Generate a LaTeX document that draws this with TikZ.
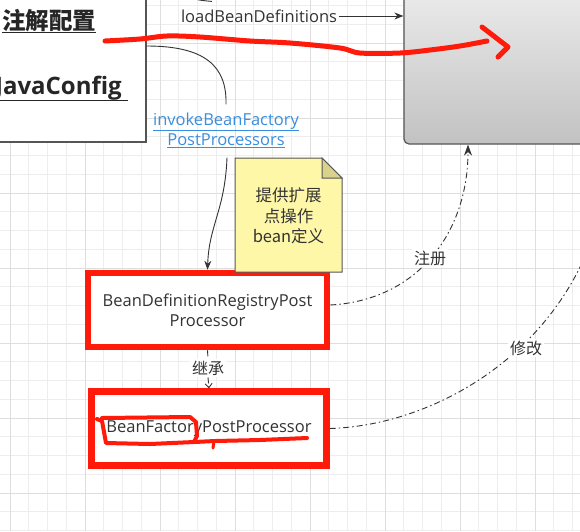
\documentclass[tikz,border=0pt]{standalone}
\usepackage{fontspec}
\setmainfont{Open Sans}
\newfontfamily\cjk{Noto Sans CJK SC}
\usetikzlibrary{arrows.meta,calc}
\definecolor{gridminor}{HTML}{EDEDED}
\definecolor{gridmajor}{HTML}{DEDEDE}
\definecolor{edgegray}{HTML}{555555}
\definecolor{txtgray}{HTML}{333333}
\definecolor{linkblue}{HTML}{3A8EE0}
\definecolor{notefill}{HTML}{FFF7A8}
\definecolor{notefold}{HTML}{D8D28C}
\definecolor{penred}{HTML}{FF1A0A}
\begin{document}
\begin{tikzpicture}[x=1pt,y=-1pt,
  txt/.style={font=\fontsize{16.5}{20}\selectfont, text=txtgray, inner sep=0pt, align=center},
  cjktxt/.style={font=\fontsize{16}{21}\selectfont\cjk, text=txtgray, inner sep=0pt, align=center},
  plainbox/.style={draw=edgegray, fill=white, line width=1.2pt},
  redbox/.style={draw=penred, fill=white, line width=6.5pt, txt},
  conn/.style={draw=txtgray, line width=0.9pt},
  dashdotted line/.style={conn, dash pattern=on 6pt off 3pt on 1.5pt off 3pt},
  redpen/.style={draw=penred, line width=5pt, line cap=round, line join=round},
  wlabel/.style={cjktxt, fill=white, inner sep=2pt}
]
\useasboundingbox (0,0) rectangle (580,531);
\fill[white] (0,0) rectangle (580,531);
% grid
\foreach \i in {-1,...,31} \draw[gridminor, line width=0.8pt] ({10+18.75*\i},0) -- ({10+18.75*\i},531);
\foreach \j in {-1,...,28} \draw[gridminor, line width=0.8pt] (0,{5.5+18.75*\j}) -- (580,{5.5+18.75*\j});
\foreach \i in {0,4,...,28} \draw[gridmajor, line width=0.8pt] ({10+18.75*\i},0) -- ({10+18.75*\i},531);
\foreach \j in {2,6,...,26} \draw[gridmajor, line width=0.8pt] (0,{5.5+18.75*\j}) -- (580,{5.5+18.75*\j});

% top-left box
\node[plainbox, minimum width=166pt, minimum height=152pt, inner sep=0pt] (tl) at (63,66) {};
\node[font=\fontsize{23.5}{28}\selectfont\cjk\bfseries, text=black!85, inner sep=0pt, anchor=west] (zj) at (2,21) {注解配置};
\node[font=\fontsize{24}{28}\selectfont\bfseries, text=black!85, inner sep=0pt, anchor=east] (jc) at (122,88) {JavaConfig};
\draw[black!85, line width=1.6pt] (2,32.5) -- (96,32.5);
\draw[black!85, line width=1.6pt] (-20,100.5) -- (128,100.5);

% right big box
\node[draw=edgegray, line width=1.2pt, rounded corners=5pt, top color=black!8, bottom color=black!24,
      minimum width=216pt, minimum height=154pt] (rb) at (512,67) {};

% loadBeanDefinitions
\node[txt] (load) at (259,16) {loadBeanDefinitions};
\coordinate (loadsrc) at (178,-8);
\draw[conn] (loadsrc) .. controls (196,0) .. ([xshift=-47pt,yshift=8pt]load.north);
\draw[conn, -{Stealth[length=9pt,width=7pt]}] ([xshift=2pt]load.east) -- (load.east -| rb.west);

% invokeBeanFactoryPostProcessors
\node[txt, text=linkblue] (inv) at (226,130) {\underline{invokeBeanFactory}\\\underline{PostProcessors}};

% note
\node[cjktxt, minimum width=107pt, minimum height=114pt, outer sep=0pt] (note) at (288.5,215) {};

% red boxes
\node[redbox, minimum width=239pt, minimum height=74pt] (bdrpp) at (207.5,310) {BeanDefinitionRegistryPost\\Processor};
\node[redbox, minimum width=235pt, minimum height=74pt] (bfpp) at (209,428.5) {BeanFactoryPostProcessor};

% note drawn
\draw[edgegray, line width=1pt, fill=notefill]
  (note.north west) -- ([xshift=-20pt]note.north east) -- ([yshift=-20pt]note.north east) -- (note.south east) -- (note.south west) -- cycle;
\draw[edgegray, line width=1pt, fill=notefold]
  ([xshift=-20pt]note.north east) -- ([xshift=-20pt,yshift=-20pt]note.north east) -- ([yshift=-20pt]note.north east) -- cycle;
\node[cjktxt, font=\fontsize{16.5}{20.5}\selectfont\cjk] (notetext) at ([yshift=-1pt]note.center) {提供扩展\\点操作\\bean定义};

% connectors
\draw[conn] ([yshift=20pt]tl.east) .. controls (205,46) and (227,66) .. ([yshift=8pt]inv.north);
\draw[conn, -{Stealth[length=9pt,width=7pt]}] ([xshift=1pt,yshift=-10pt]inv.south) .. controls (225,210) and (209,225) .. (bdrpp.north);

\node[wlabel] (inh) at (208,368) {继承};
\draw[dashdotted line] (bdrpp.south) -- (inh.north);
\draw[dashdotted line, -{Straight Barb[length=4pt,width=7pt]}] (inh.south) -- (bfpp.north);

\coordinate (regx) at (468,0);
\draw[dashdotted line, -{Stealth[length=11pt,width=8pt]}] ([yshift=5pt]bdrpp.east) .. controls (420,300) and (468,230) .. (regx |- rb.south);
\node[wlabel] (reg) at (430,258) {注册};

\coordinate (modx) at (610,0);
\draw[dashdotted line, -{Stealth[length=11pt,width=8pt]}] (bfpp.east) .. controls (450,425) and (600,330) .. (modx |- rb.south);
\node[wlabel] (mod) at (526,348) {修改};

% red pen marks
\draw[redpen] plot[smooth, tension=0.55] coordinates {(105,41) (140,39) (167,36) (200,37) (250,41) (290,43) (340,48) (360,53) (400,53) (430,50) (460,46) (487,41)};
\draw[redpen] (482,27) -- (508,47) -- (498,57);
\draw[redpen, line width=4pt] (97,419) -- (102,421) -- (106,443) -- (150,444) -- (194,442) -- (197,436) -- (196,422) -- (190,417) -- (102,418);
\draw[redpen, line width=4pt] (194,442) -- (215,441) -- (260,440) -- (307,438);
\draw[redpen, line width=3pt] (214,441) -- (213,448);
\end{tikzpicture}
\end{document}
